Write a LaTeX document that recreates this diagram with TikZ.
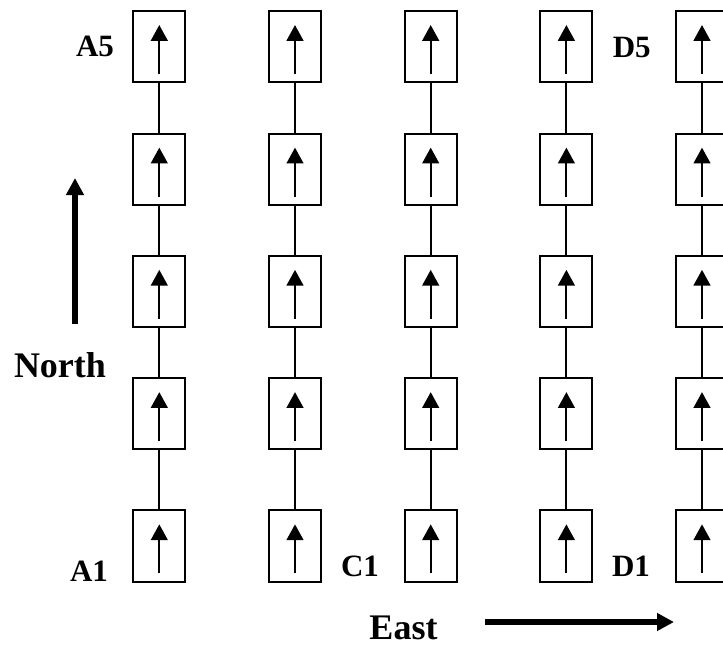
\documentclass[tikz,border=0pt]{standalone}
\usepackage{fontspec}
\setmainfont{Liberation Serif}
\usetikzlibrary{arrows.meta}
\begin{document}
\begin{tikzpicture}[x=1pt,y=-1pt,
  cell/.style={draw,line width=2pt,minimum width=52pt,minimum height=71.3pt,inner sep=0pt},
  link/.style={line width=2pt},
  inarrow/.style={line width=2pt,-{Triangle[width=16.7pt,length=15.7pt]}},
  bigarrow/.style={line width=6.7pt,-{Triangle[width=17pt,length=17pt]}},
  lab/.style={font=\bfseries\fontsize{31}{31}\selectfont,inner sep=0pt},
  biglab/.style={font=\bfseries\fontsize{36}{36}\selectfont,inner sep=0pt}]
\clip (0,0) rectangle (723,646);
\useasboundingbox (0,0) rectangle (723,646);
\foreach \c/\x in {1/159.3,2/295,3/430.7,4/566.4,5/702}{
  \foreach \r/\y in {1/546,2/413.8,3/291.5,4/169.3,5/46.7}{
    \node[cell] (b\c\r) at (\x,\y) {};
    \draw[inarrow] ([yshift=9.3pt]b\c\r.south) -- ([yshift=-15pt]b\c\r.north);
  }
  \foreach \r [evaluate=\r as \n using int(\r+1)] in {1,2,3,4}{
    \draw[link] (b\c\r.north) -- (b\c\n.south);
  }
}
\node[lab] (a5) at (95,46) {A5};
\node[lab] (a1) at (89,571) {A1};
\node[lab] (c1) at (360,566) {C1};
\node[lab] (d5) at (631.7,47.5) {D5};
\node[lab] (d1) at (631,566.7) {D1};
\node[biglab] (north) at (60,365.5) {North};
\node[biglab] (east) at (403.5,627.5) {East};
\coordinate (ns) at (75,324);
\coordinate (nt) at (75,178);
\coordinate (es) at (485,622);
\coordinate (et) at (674,622);
\draw[bigarrow] (ns) -- (nt);
\draw[bigarrow] (es) -- (et);
\end{tikzpicture}
\end{document}
